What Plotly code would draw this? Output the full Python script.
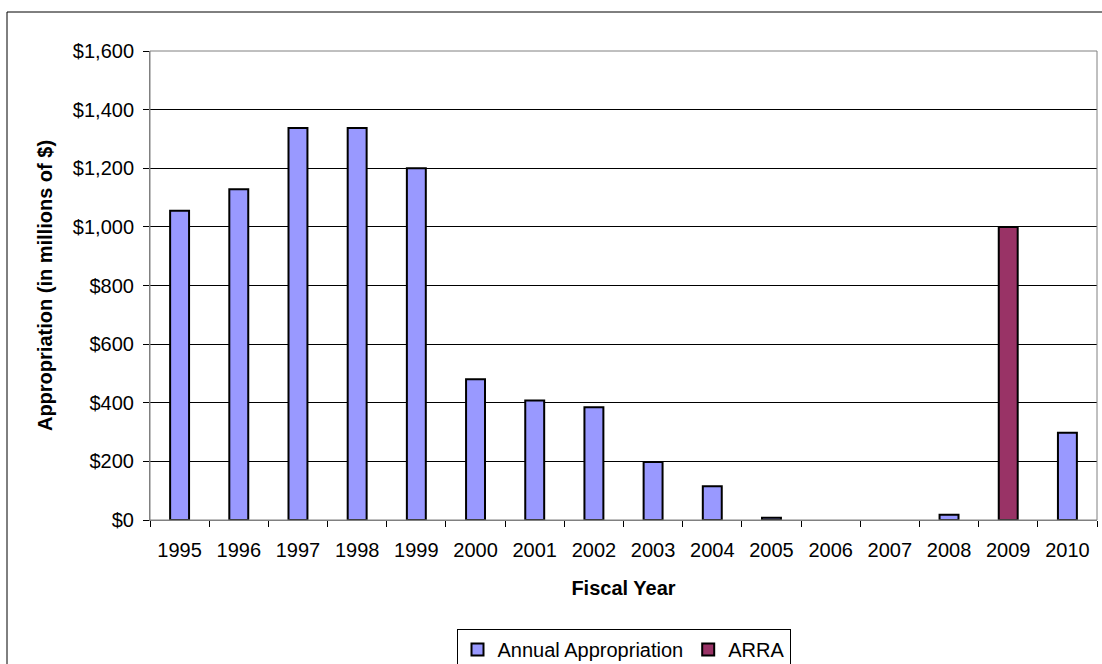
import plotly.graph_objects as go

years = ["1995", "1996", "1997", "1998", "1999", "2000", "2001", "2002",
         "2003", "2004", "2005", "2006", "2007", "2008", "2009", "2010"]
annual = [1055, 1128, 1337, 1337, 1200, 480, 408, 385, 198, 115, 8, 0, 0, 18, None, 298]
arra_years = ["2009"]
arra = [1000]

L, R, T, B = 150, 5, 51, 144
W, H = 1102, 664
pw, ph = W - L - R, H - T - B

def px_x(p):
    return (p - L) / pw

def px_y(p):
    return (H - B - p) / ph

# no outline for zero-height bars (Excel draws nothing there)
annual_line_w = [0 if v == 0 else 2 for v in annual]

fig = go.Figure()
fig.add_trace(go.Bar(x=years, y=annual, name="Annual Appropriation",
                     marker=dict(color="#9999FF", line=dict(color="black", width=annual_line_w)),
                     width=0.32))
fig.add_trace(go.Bar(x=arra_years, y=arra, name="ARRA",
                     marker=dict(color="#993366", line=dict(color="black", width=2)),
                     width=0.32))

font = "Liberation Sans, Arial, sans-serif"
fig.update_layout(
    width=W, height=H,
    margin=dict(l=L, r=R, t=T, b=B, autoexpand=False),
    paper_bgcolor="white", plot_bgcolor="white",
    barmode="overlay",
    font=dict(family=font, size=20, color="black"),
    showlegend=True,
    legend=dict(orientation="h", x=0.5, xanchor="center", y=px_y(629), yanchor="top",
                bordercolor="black", borderwidth=1, font=dict(size=20),
                itemwidth=30, tracegroupgap=0),
    xaxis=dict(categoryorder="array", categoryarray=years,
               showline=True, linecolor="#808080", linewidth=1,
               ticks="outside", tickson="boundaries", ticklen=6, tickcolor="black",
               tickfont=dict(size=20), ticklabelstandoff=12,
               title=dict(text="<b>Fiscal Year</b>", font=dict(size=20), standoff=20),
               showgrid=False, range=[-0.5, 15.5]),
    yaxis=dict(range=[0, 1600], dtick=200, tickprefix="$", tickformat=",d",
               showline=True, linecolor="#808080", linewidth=1,
               ticks="outside", ticklen=6, tickcolor="black",
               showgrid=True, gridcolor="black", gridwidth=1,
               tickfont=dict(size=20), ticklabelstandoff=5,
               title=dict(text="<b>Appropriation (in millions of $)</b>", font=dict(size=20), standoff=14),
               zeroline=False),
    shapes=[
        dict(type="rect", xref="paper", yref="paper", x0=0, x1=1, y0=0, y1=1,
             line=dict(color="#808080", width=1), layer="above"),
        dict(type="rect", xref="paper", yref="paper",
             x0=px_x(7), x1=px_x(1110), y0=px_y(680), y1=px_y(12),
             line=dict(color="black", width=1), layer="below"),
    ],
)

fig.write_html("out.html", config={"displayModeBar": False},
               post_script="document.body.style.margin='0';document.body.style.overflow='hidden';")
